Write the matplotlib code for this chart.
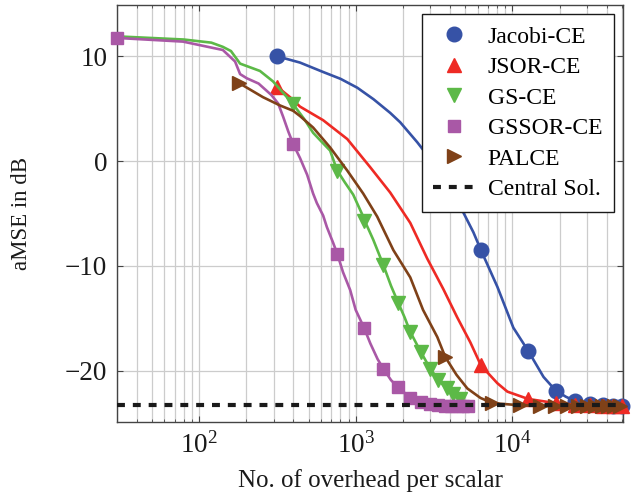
import matplotlib
matplotlib.use("Agg")
import matplotlib.pyplot as plt
from matplotlib.lines import Line2D
from matplotlib.ticker import LogLocator, NullFormatter, FuncFormatter

plt.rcParams['font.family'] = ['Liberation Serif', 'DejaVu Serif']
plt.rcParams['mathtext.fontset'] = 'custom'
plt.rcParams['mathtext.rm'] = 'Liberation Serif'
plt.rcParams['mathtext.it'] = 'Liberation Serif:italic'

# ---------------- data ----------------
jac_x = [315, 441, 620, 800, 1024, 1300, 1660, 1924, 2470, 2990, 3800, 4860, 5640, 6300, 8020,
         10140, 12600, 15800, 18900, 22000, 25200, 31500, 37800, 44100, 50400]
jac_y = [10.0, 9.4, 8.5, 7.85, 7.0, 5.9, 4.6, 3.7, 1.8, 0.2, -2.2, -4.9, -6.8, -8.5, -12.0,
         -15.9, -18.1, -20.6, -21.9, -22.5, -22.9, -23.2, -23.3, -23.35, -23.4]
jac_mx = [315, 6300, 12600, 18900, 25200, 31500, 37800, 44100, 50400]
jac_my = [10.0, -8.5, -18.1, -21.9, -22.9, -23.2, -23.3, -23.35, -23.4]

jsor_x = [315, 381, 441, 620, 884, 1240, 1660, 2230, 2860, 3620, 4440, 5390, 6300, 8020,
          9290, 12600, 18900, 25200, 31500, 37800, 44100, 50400]
jsor_y = [7.1, 6.1, 5.2, 3.9, 2.1, -0.6, -3.0, -5.9, -9.3, -12.2, -14.9, -17.3, -19.5, -21.2,
          -22.0, -22.7, -23.1, -23.25, -23.3, -23.35, -23.4, -23.4]
jsor_mx = [315, 6300, 12600, 18900, 25200, 31500, 37800, 44100, 50400]
jsor_my = [7.1, -19.5, -22.7, -23.1, -23.25, -23.3, -23.35, -23.4, -23.4]

gs_x = [30, 80, 120, 142, 160, 183, 245, 297, 345, 400, 470, 535, 610, 687, 762, 850, 964,
        1117, 1150, 1294, 1500, 1680, 1866, 2050, 2230, 2600, 2990, 3370, 3800, 4200, 4600, 4850]
gs_y = [11.9, 11.6, 11.3, 10.9, 10.5, 9.3, 8.6, 7.6, 6.5, 5.4, 4.0, 2.7, 1.8, 1.0, -0.9, -2.0,
        -3.2, -5.3, -5.8, -7.5, -9.9, -11.9, -13.5, -14.9, -16.3, -18.2, -19.8, -20.9, -21.7,
        -22.2, -22.7, -23.0]
gs_mx = [400, 765, 1130, 1500, 1866, 2230, 2600, 2990, 3370, 3800, 4200, 4600]
gs_my = [5.4, -0.9, -5.7, -9.9, -13.5, -16.3, -18.2, -19.8, -20.9, -21.7, -22.2, -22.7]

gssor_x = [30, 79, 142, 170, 183, 202, 240, 290, 320, 345, 372, 400, 441, 490, 535, 565, 620,
           655, 718, 765, 830, 922, 1000, 1130, 1240, 1380, 1500, 1680, 1866, 2080, 2230, 2600,
           2970, 3340, 3710, 4080, 4450, 4820, 5190]
gssor_y = [11.75, 11.4, 10.6, 9.5, 8.3, 7.9, 7.4, 6.3, 5.5, 4.2, 2.8, 1.6, 0.3, -1.3, -3.1,
           -4.0, -5.2, -6.3, -7.8, -8.9, -10.6, -12.3, -14.2, -15.9, -17.4, -18.9, -19.8,
           -20.9, -21.6, -22.2, -22.6, -23.0, -23.2, -23.3, -23.35, -23.4, -23.4, -23.4, -23.4]
gssor_mx = [30, 400, 765, 1130, 1500, 1866, 2230, 2600, 2970, 3340, 3710, 4080, 4450, 4820, 5190]
gssor_my = [11.75, 1.6, -8.9, -15.9, -19.8, -21.6, -22.6, -23.0, -23.2, -23.3, -23.35, -23.4,
            -23.4, -23.4, -23.4]

pal_x = [180, 256, 330, 399, 441, 535, 687, 883, 1117, 1372, 1740, 2230, 2690, 3320, 3730,
         4400, 5160, 6250, 7460, 11190, 14920, 18650, 22380, 26110, 29840, 33570, 37300,
         41030, 44760, 48490]
pal_y = [7.45, 6.1, 5.3, 4.8, 4.3, 3.2, 1.3, -0.9, -3.1, -5.3, -8.5, -11.1, -14.2, -16.8,
         -18.7, -20.4, -21.7, -22.6, -23.1, -23.3, -23.35, -23.4, -23.4, -23.4, -23.4, -23.4,
         -23.4, -23.4, -23.4, -23.4]
pal_mx = [180, 3730, 7460, 11190, 14920, 18650, 22380, 26110, 29840, 33570, 37300, 41030,
          44760, 48490]
pal_my = [7.45, -18.7, -23.1, -23.3, -23.35, -23.4, -23.4, -23.4, -23.4, -23.4, -23.4, -23.4,
          -23.4, -23.4]

central_x = [30, 51000]
central_y = [-23.3, -23.3]

labels = ['Jacobi-CE', 'JSOR-CE', 'GS-CE', 'GSSOR-CE', 'PALCE', 'Central Sol.']
y_ticks = [-20, -10, 0, 10]

# ---------------- styles ----------------
c_blue = '#3652a6'
c_red = '#ee2a24'
c_green = '#5cb947'
c_purple = '#a958a6'
c_brown = '#7f4118'

fig = plt.figure(figsize=(6.36, 4.93), dpi=100)
ax = fig.add_axes([0.184, 0.144, 0.796, 0.846])

lw = 1.9
series = [
    (jac_x, jac_y, jac_mx, jac_my, c_blue, 'o', 10.5),
    (jsor_x, jsor_y, jsor_mx, jsor_my, c_red, '^', 10.5),
    (gs_x, gs_y, gs_mx, gs_my, c_green, 'v', 10.5),
    (gssor_x, gssor_y, gssor_mx, gssor_my, c_purple, 's', 9),
    (pal_x, pal_y, pal_mx, pal_my, c_brown, '>', 10.5),
]
handles = []
for i, (x, y, mx, my, c, m, ms) in enumerate(series):
    ax.plot(x, y, color=c, lw=lw, zorder=3 + i)
    ax.plot(mx, my, ls='none', marker=m, ms=ms, color=c, mec=c, zorder=3 + i,
            clip_on=False)
    handles.append(Line2D([], [], ls='none', marker=m, ms=ms, color=c, mec=c))

ax.plot(central_x, central_y, color='#1a1a1a', lw=3.0, dashes=(1.9, 1.9), zorder=9)
handles.append(Line2D([], [], color='#1a1a1a', lw=3.0, dashes=(1.9, 1.9)))

ax.set_xscale('log')
ax.set_xlim(30, 51000)
ax.set_ylim(-24.9, 14.9)
ax.set_yticks(y_ticks)
ax.yaxis.set_major_formatter(FuncFormatter(
    lambda v, p: ('\u2212' if v < 0 else '') + '%d' % abs(v)))
ax.xaxis.set_major_locator(LogLocator(base=10, numticks=10))
ax.xaxis.set_minor_locator(LogLocator(base=10, subs=range(2, 10), numticks=20))
ax.xaxis.set_minor_formatter(NullFormatter())

ax.grid(True, which='major', color='#cccccc', lw=0.9, zorder=0)
ax.grid(True, which='minor', axis='x', color='#cccccc', lw=0.9, zorder=0)
ax.set_axisbelow(True)

for s in ax.spines.values():
    s.set_color('#444444')
    s.set_linewidth(1.0)
ax.tick_params(which='both', direction='in', top=True, right=True, colors='#444444',
               labelcolor='#1a1a1a', labelsize=19.5)
ax.tick_params(which='major', length=4, pad=7)
ax.tick_params(which='minor', length=2.5)

ax.set_xlabel('No. of overhead per scalar', fontsize=18, color='#1a1a1a', labelpad=8)
ax.set_ylabel('aMSE in dB', fontsize=16.5, color='#1a1a1a', labelpad=24)

leg = ax.legend(handles, labels, loc='upper right', fontsize=17, frameon=True,
                fancybox=False, edgecolor='#1a1a1a', framealpha=1, handlelength=1.74,
                handletextpad=0.55, labelspacing=0.38, borderpad=0.5,
                borderaxespad=0.4)
leg.get_frame().set_linewidth(1.0)
leg.set_zorder(20)

fig.savefig('out.png', dpi=100)
